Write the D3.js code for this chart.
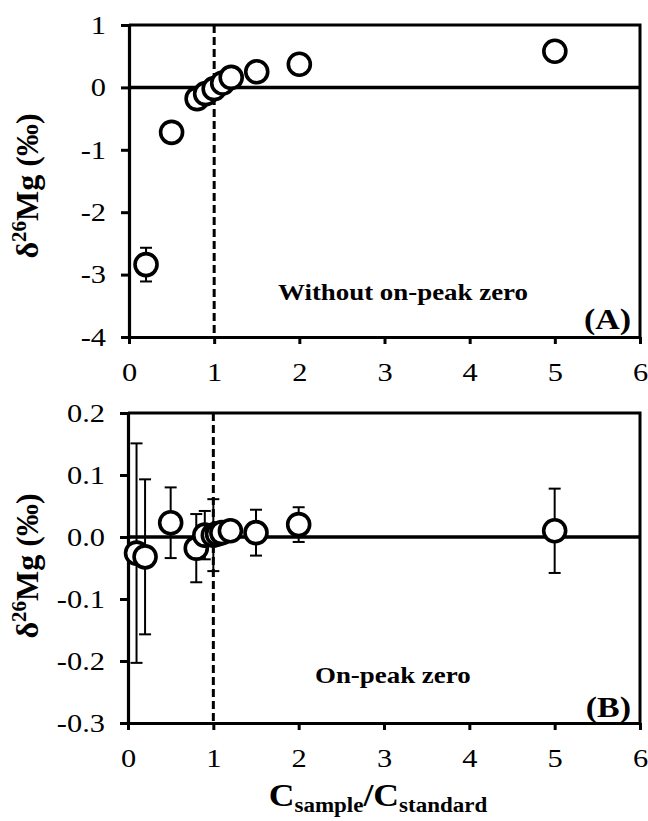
<body style="margin:0;background:#fff">
<div id="chart"></div>
<script src="https://d3js.org/d3.v7.min.js"></script>
<script>
// concentration ratio (x) and delta values
const xTicks = [0, 1, 2, 3, 4, 5, 6];

const concA = [0.2, 0.5, 0.8, 0.9, 1.0, 1.1, 1.2, 1.5, 2, 5];
const deltaA = [-2.84, -0.72, -0.18, -0.10, -0.02, 0.07, 0.16, 0.25, 0.37, 0.58];
const errA = [0.27, 0.05, 0.05, 0.05, 0.05, 0.05, 0.05, 0.05, 0.05, 0.05];
const yTicksA = [-4, -3, -2, -1, 0, 1];

const concB = [0.1, 0.2, 0.5, 0.8, 0.9, 1.0, 1.05, 1.1, 1.2, 1.5, 2, 5];
const deltaB = [-0.026, -0.032, 0.023, -0.018, 0.003, 0.003, 0.005, 0.007, 0.010, 0.007, 0.020, 0.010];
const errB = [0.177, 0.125, 0.057, 0.055, 0.039, 0.058, 0.010, 0.010, 0.010, 0.037, 0.028, 0.068];
const yTicksB = [-0.3, -0.2, -0.1, 0.0, 0.1, 0.2];

const W = 648, H = 821;
const serif = "'Liberation Serif', 'Times New Roman', serif";
const stretch = 1.17; // the original lettering is a bit wider than Times

const svg = d3.select("#chart").append("svg")
    .attr("width", W)
    .attr("height", H)
    .style("font-family", serif);

function label(g, x, y, anchor, size, txt) {
    return g.append("text")
        .attr("transform", `translate(${x},${y}) scale(${stretch},1)`)
        .attr("text-anchor", anchor)
        .attr("font-weight", "bold").attr("font-size", size)
        .text(txt);
}

function panel(opts) {
    const x = d3.scaleLinear().domain([0, 6]).range([opts.left, opts.right]);
    const y = d3.scaleLinear().domain(opts.yDomain).range([opts.bottom, opts.top]);
    const g = svg.append("g");

    // frame: top and right edges
    g.append("path")
        .attr("d", `M${opts.left},${opts.top}H${opts.right}V${opts.bottom}`)
        .attr("fill", "none").attr("stroke", "#000").attr("stroke-width", 3);

    // zero line
    g.append("line")
        .attr("x1", x(0)).attr("x2", x(6))
        .attr("y1", y(0)).attr("y2", y(0))
        .attr("stroke", "#000").attr("stroke-width", 3.5);

    // dashed line at ratio 1
    g.append("line")
        .attr("x1", x(1)).attr("x2", x(1))
        .attr("y1", opts.top).attr("y2", opts.bottom)
        .attr("stroke", "#000").attr("stroke-width", 3)
        .attr("stroke-dasharray", "8,4");

    const xAxis = g.append("g")
        .attr("transform", `translate(0,${opts.bottom})`)
        .call(d3.axisBottom(x).tickValues(xTicks).tickSize(7).tickSizeOuter(0).tickPadding(19).tickFormat(d => d));
    const yAxis = g.append("g")
        .attr("transform", `translate(${opts.left},0)`)
        .call(d3.axisLeft(y).tickValues(opts.yTicks).tickSize(8).tickSizeOuter(0).tickFormat(opts.fmt));
    [xAxis, yAxis].forEach(a => {
        a.select(".domain").attr("stroke-width", 3.2);
        a.selectAll(".tick line").attr("stroke-width", 3);
        a.selectAll(".tick text").attr("font-family", serif).attr("font-size", 26).attr("fill", "#000");
    });
    xAxis.selectAll(".tick text").attr("transform", `scale(${stretch},1)`);
    yAxis.selectAll(".tick text").attr("x", 0).attr("transform", `translate(-23,0) scale(${stretch},1)`);

    const pts = opts.conc.map((c, i) => ({ c: c, d: opts.delta[i], e: opts.err[i] }));

    // error bars
    const eb = g.selectAll(".eb").data(pts).enter().append("g")
        .attr("stroke", "#000").attr("stroke-width", 2);
    eb.append("line")
        .attr("x1", d => x(d.c)).attr("x2", d => x(d.c))
        .attr("y1", d => y(d.d + d.e)).attr("y2", d => y(d.d - d.e));
    eb.append("line")
        .attr("x1", d => x(d.c) - 6).attr("x2", d => x(d.c) + 6)
        .attr("y1", d => y(d.d + d.e)).attr("y2", d => y(d.d + d.e));
    eb.append("line")
        .attr("x1", d => x(d.c) - 6).attr("x2", d => x(d.c) + 6)
        .attr("y1", d => y(d.d - d.e)).attr("y2", d => y(d.d - d.e));

    g.selectAll(".pt").data(pts).enter().append("circle")
        .attr("cx", d => x(d.c)).attr("cy", d => y(d.d))
        .attr("r", 11)
        .attr("fill", "#fff").attr("stroke", "#000").attr("stroke-width", 3.6);

    // y title
    const t = g.append("text")
        .attr("transform", `translate(38,${opts.titleY}) rotate(-90)`)
        .attr("text-anchor", "middle")
        .attr("font-weight", "bold").attr("font-size", 32);
    t.append("tspan").text("δ");
    t.append("tspan").attr("font-size", 21).attr("dy", -12).text("26");
    t.append("tspan").attr("dy", 12).text("Mg (‰)");

    label(g, opts.noteX, opts.noteY, "start", 23, opts.note);
    label(g, 631, opts.tagY, "end", 29, opts.tag);
}

panel({
    left: 129, right: 640, top: 25, bottom: 337,
    yDomain: [-4, 1], yTicks: yTicksA, fmt: d => d,
    conc: concA, delta: deltaA, err: errA,
    titleY: 186, note: "Without on-peak zero", noteX: 278, noteY: 300, tag: "(A)", tagY: 329
});

panel({
    left: 128, right: 640, top: 413, bottom: 723,
    yDomain: [-0.3, 0.2], yTicks: yTicksB, fmt: d => d.toFixed(1),
    conc: concB, delta: deltaB, err: errB,
    titleY: 566, note: "On-peak zero", noteX: 315, noteY: 683, tag: "(B)", tagY: 717
});

// x title
const xt = svg.append("text")
    .attr("transform", `translate(378,806) scale(1.15,1)`)
    .attr("text-anchor", "middle")
    .attr("font-weight", "bold").attr("font-size", 31);
xt.append("tspan").text("C");
xt.append("tspan").attr("font-size", 20).attr("dy", 6).text("sample");
xt.append("tspan").attr("dy", -6).text("/C");
xt.append("tspan").attr("font-size", 20).attr("dy", 6).text("standard");
</script>
</body>
